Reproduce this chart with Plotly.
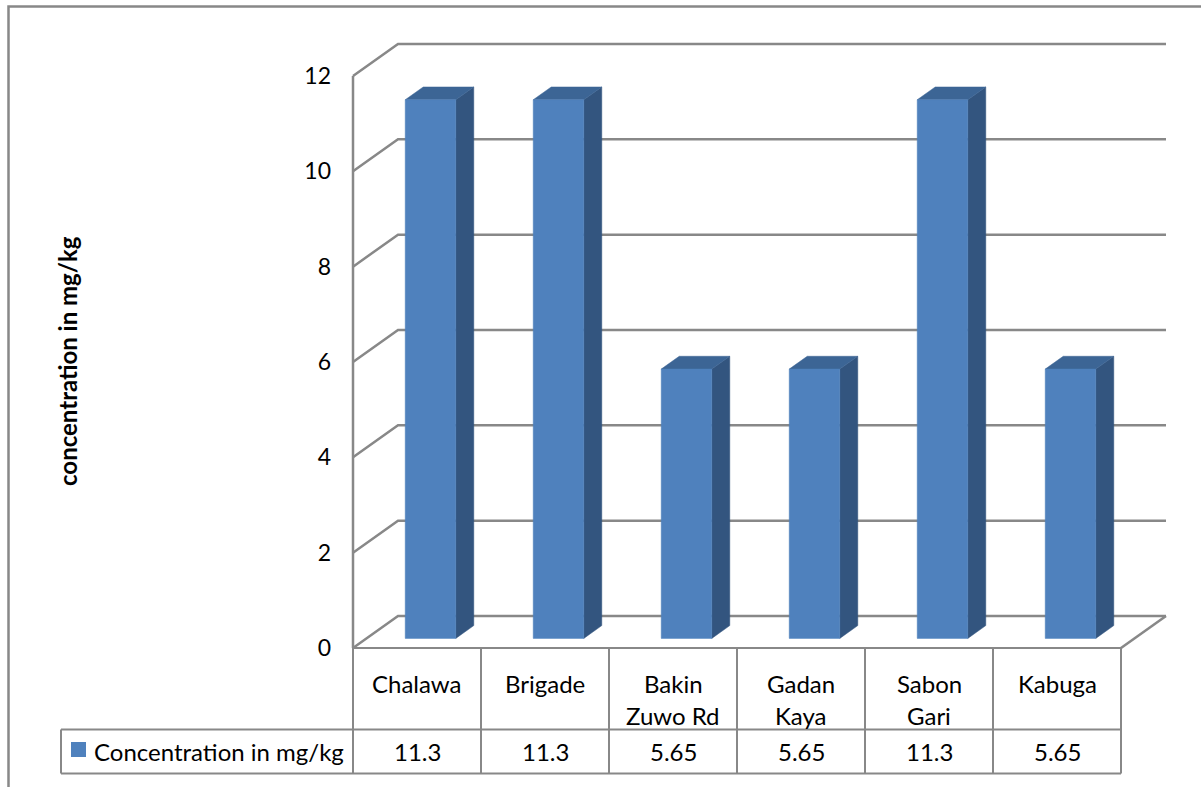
import plotly.graph_objects as go

# ---- data -------------------------------------------------------------
categories = ["Chalawa", "Brigade", "Bakin Zuwo Rd", "Gadan Kaya", "Sabon Gari", "Kabuga"]
concentration = [11.3, 11.3, 5.65, 5.65, 11.3, 5.65]
series_name = "Concentration in mg/kg"
y_ticks = [0, 2, 4, 6, 8, 10, 12]
axis_title = "concentration in mg/kg"

# ---- geometry (pixels of the 1201x787 canvas) ------------------------
W, H = 1201, 787
X0_PX, Y0_PX = 353, 648          # front-left corner of the floor
CAT_PX = 128                      # width of one category cell
UNIT_PX = 572 / 12                # pixels per mg/kg on the front plane
DEPTH_X_PX, DEPTH_Y_PX = 45, 32   # oblique depth offset of the back wall

DX = DEPTH_X_PX / CAT_PX          # depth offset in category units
DY = DEPTH_Y_PX / UNIT_PX         # depth offset in value units
BAR_W = 0.395                     # bar width in category units
F_FRONT, F_BACK = 0.30, 0.70      # depth fractions of bar front/back faces


def px_x(px):
    return (px - X0_PX) / CAT_PX


def px_y(py):
    return (Y0_PX - py) / UNIT_PX


FONT = "Lato, 'Open Sans', sans-serif"
GRID = "#888888"
FRONT = "#4F81BD"
SIDE = "#33557F"
TOP = "#3C6595"

n = len(categories)
y_top = max(y_ticks)

fig = go.Figure()

# ---- walls, floor and gridlines --------------------------------------
gx, gy = [], []
for t in y_ticks:
    gx += [0, DX, n + DX, None]
    gy += [t, t + DY, t + DY, None]
# floor right edge and front-left vertical edge
gx += [n + DX, n, None, 0, 0, None]
gy += [DY, 0, None, y_top, 0, None]
fig.add_trace(go.Scatter(x=gx, y=gy, mode="lines",
                         line=dict(color=GRID, width=2.5),
                         hoverinfo="skip", showlegend=False))

# ---- 3D columns ------------------------------------------------------
for i, v in enumerate(concentration):
    c = i + 0.5
    xl1 = c - BAR_W / 2 + F_FRONT * DX
    xr1 = c + BAR_W / 2 + F_FRONT * DX
    xl2 = c - BAR_W / 2 + F_BACK * DX
    xr2 = c + BAR_W / 2 + F_BACK * DX
    yb1, yb2 = F_FRONT * DY, F_BACK * DY
    yt1, yt2 = v + F_FRONT * DY, v + F_BACK * DY
    faces = [
        ([xr1, xr2, xr2, xr1, xr1], [yb1, yb2, yt2, yt1, yb1], SIDE),
        ([xl1, xr1, xr2, xl2, xl1], [yt1, yt1, yt2, yt2, yt1], TOP),
        ([xl1, xr1, xr1, xl1, xl1], [yb1, yb1, yt1, yt1, yb1], FRONT),
    ]
    for fx, fy, col in faces:
        fig.add_trace(go.Scatter(x=fx, y=fy, mode="lines", fill="toself",
                                 fillcolor=col, line=dict(color=col, width=0.5),
                                 hoverinfo="skip", showlegend=False))

# ---- data table ------------------------------------------------------
row1_bottom = px_y(729.5)
row2_bottom = px_y(773.5)
legend_left = px_x(61)

tx, ty = [], []
# horizontal rules
tx += [legend_left, n, None, legend_left, n, None, 0, n, None]
ty += [row1_bottom, row1_bottom, None, row2_bottom, row2_bottom, None, 0, 0, None]
# vertical rules
for k in range(n + 1):
    tx += [k, k, None]
    ty += [0, row2_bottom, None]
tx += [legend_left, legend_left, None]
ty += [row1_bottom, row2_bottom, None]
fig.add_trace(go.Scatter(x=tx, y=ty, mode="lines",
                         line=dict(color=GRID, width=2),
                         hoverinfo="skip", showlegend=False))

annotations = []
text_font = dict(family=FONT, size=24, color="black")
for i, name in enumerate(categories):
    for j, line in enumerate(name.split(" ", 1)):
        annotations.append(dict(x=i + 0.5, y=px_y(683 + 32.5 * j), text=line,
                                showarrow=False, xanchor="center",
                                yanchor="middle", font=text_font))
    annotations.append(dict(x=i + 0.5, y=(row1_bottom + row2_bottom) / 2,
                            text=f"{concentration[i]:g}", showarrow=False,
                            xanchor="center", yanchor="middle", font=text_font))

# legend key in the table's first column
annotations.append(dict(x=px_x(92), y=(row1_bottom + row2_bottom) / 2,
                        text=series_name, showarrow=False, xanchor="left",
                        yanchor="middle", font=text_font))

# vertical axis title
annotations.append(dict(x=px_x(67), y=px_y(361), text=f"<b>{axis_title}</b>",
                        textangle=-90, showarrow=False, xanchor="center",
                        yanchor="middle",
                        font=dict(family=FONT, size=24, color="black")))

shapes = [
    # legend swatch
    dict(type="rect", xref="x", yref="y", x0=px_x(71), x1=px_x(86),
         y0=px_y(742), y1=px_y(757), fillcolor=FRONT, line=dict(width=0)),
    # chart frame
    dict(type="rect", xref="paper", yref="paper", x0=8.5 / W, x1=1.2,
         y0=-0.2, y1=1 - 6.5 / H, line=dict(color=GRID, width=2.5)),
]

fig.update_layout(
    width=W, height=H, autosize=False,
    margin=dict(l=0, r=0, t=0, b=0),
    paper_bgcolor="white", plot_bgcolor="white",
    showlegend=False,
    xaxis=dict(range=[px_x(0), px_x(W)], visible=False, fixedrange=True,
               domain=[0, 1]),
    yaxis=dict(range=[px_y(H), px_y(0)], domain=[0, 1], fixedrange=True,
               anchor="free", position=X0_PX / W, side="left",
               tickvals=y_ticks, ticktext=[str(t) for t in y_ticks],
               showgrid=False, zeroline=False, showline=False, ticks="",
               ticklabelstandoff=22,
               tickfont=dict(family=FONT, size=23, color="black")),
    annotations=annotations,
    shapes=shapes,
)

fig.write_html("out.html")
